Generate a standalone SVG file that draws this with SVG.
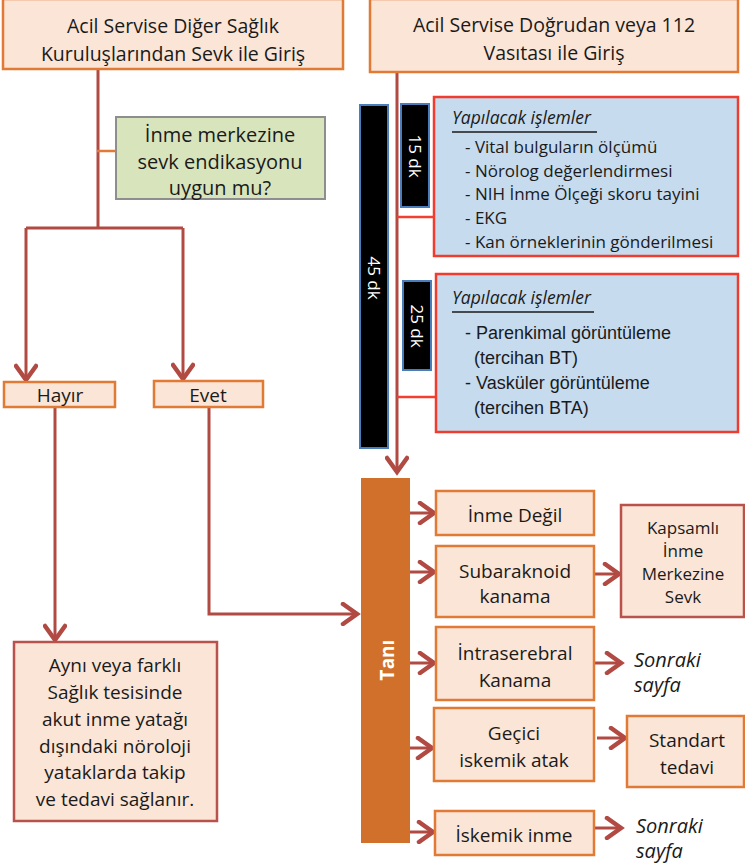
<svg xmlns="http://www.w3.org/2000/svg" width="745" height="866" viewBox="0 0 745 866">
  <defs>
    <marker id="arrow" viewBox="-18 -12 22 24" markerWidth="22" markerHeight="24" refX="0" refY="0" orient="auto" markerUnits="userSpaceOnUse">
      <path d="M-14,-10 L0,0 L-14,10" fill="none" stroke="#B04A42" stroke-width="4.5" stroke-linecap="round" stroke-linejoin="miter"/>
    </marker>
    <style>
      .peach { fill: #FBE5D6; stroke: #E07A35; stroke-width: 2.5; }
      .peachRed { fill: #FBE5D6; stroke: #B9524B; stroke-width: 2.5; }
      .green { fill: #D8E4BC; stroke: #8E8E8E; stroke-width: 2; }
      .blue { fill: #C6DBEE; stroke: #F03C2E; stroke-width: 2.5; }
      .bar { fill: #000000; stroke: #4A7EBB; stroke-width: 2; }
      .tani { fill: #D1702A; }
      .t { font-family: "Open Sans", "Liberation Sans", sans-serif; font-size: 19px; fill: #1a1a1a; text-anchor: middle; }
      .tl { font-family: "Open Sans", "Liberation Sans", sans-serif; font-size: 17px; fill: #1a1a1a; }
      .ti { font-family: "Open Sans", "Liberation Sans", sans-serif; font-size: 17.5px; font-style: italic; fill: #1a1a1a; }
      .th { font-family: "Liberation Sans", Arial, sans-serif; font-size: 18px; fill: #1a1a1a; }
      .tw { font-family: "Open Sans", "Liberation Sans", sans-serif; font-size: 17px; fill: #ffffff; text-anchor: middle; }
      .next { font-family: "Open Sans", "Liberation Sans", sans-serif; font-size: 20px; font-style: italic; fill: #1a1a1a; }
      .conn { fill: none; stroke: #B04A42; stroke-width: 3; }
      .tick { fill: none; stroke: #F0402F; stroke-width: 2.5; }
    </style>
  </defs>

  <!-- connectors -->
  <g id="connectors">
    <path class="conn" d="M98,70 V228"/>
    <path fill="none" stroke="#E07A35" stroke-width="2.5" d="M97,151 H116"/>
    <path class="conn" d="M26,228 H183"/>
    <path class="conn" d="M26,228 V380" marker-end="url(#arrow)"/>
    <path class="conn" d="M183,228 V379" marker-end="url(#arrow)"/>
    <path class="conn" d="M55,407 V640" marker-end="url(#arrow)"/>
    <path class="conn" d="M209,407 V614 H357" marker-end="url(#arrow)"/>
    <path class="conn" d="M397,72 V472" marker-end="url(#arrow)"/>
    <path class="tick" d="M397,217 H434"/>
    <path class="tick" d="M397,397 H436"/>
    <path class="conn" d="M405,513 H434" marker-end="url(#arrow)"/>
    <path class="conn" d="M405,572 H434" marker-end="url(#arrow)"/>
    <path class="conn" d="M405,663 H434" marker-end="url(#arrow)"/>
    <path class="conn" d="M405,748 H432" marker-end="url(#arrow)"/>
    <path class="conn" d="M405,832 H433" marker-end="url(#arrow)"/>
    <path class="conn" d="M591,574 H619" marker-end="url(#arrow)"/>
    <path class="conn" d="M591,663 H621" marker-end="url(#arrow)"/>
    <path class="conn" d="M597,738 H625" marker-end="url(#arrow)"/>
    <path class="conn" d="M594,828 H621" marker-end="url(#arrow)"/>
  </g>

  <!-- entry points -->
  <g id="entry-referral">
    <rect class="peach" x="3" y="-1" width="340" height="70"/>
    <text class="t" x="173" y="33" style="font-size:19.5px">Acil Servise Diğer Sağlık</text>
    <text class="t" x="173" y="61" style="font-size:19.5px">Kuruluşlarından Sevk ile Giriş</text>
  </g>
  <g id="entry-direct">
    <rect class="peach" x="370" y="-1" width="368" height="73"/>
    <text class="t" x="554" y="32" style="font-size:19.5px">Acil Servise Doğrudan veya 112</text>
    <text class="t" x="554" y="60" style="font-size:19.5px">Vasıtası ile Giriş</text>
  </g>

  <!-- referral decision -->
  <g id="question">
    <rect class="green" x="116" y="117" width="209" height="82"/>
    <text class="t" x="220" y="142" style="font-size:20px">İnme merkezine</text>
    <text class="t" x="220" y="169" style="font-size:20px">sevk endikasyonu</text>
    <text class="t" x="220" y="195" style="font-size:20px">uygun mu?</text>
  </g>
  <g id="no">
    <rect class="peach" x="4" y="382" width="111" height="25"/>
    <text class="t" x="60" y="402">Hayır</text>
  </g>
  <g id="yes">
    <rect class="peach" x="154" y="381" width="109" height="26"/>
    <text class="t" x="208" y="402">Evet</text>
  </g>
  <g id="neuro-ward">
    <rect class="peachRed" x="14" y="642" width="203" height="179"/>
    <text class="t" x="115" y="672">Aynı veya farklı</text>
    <text class="t" x="115" y="699">Sağlık tesisinde</text>
    <text class="t" x="115" y="726">akut inme yatağı</text>
    <text class="t" x="115" y="753">dışındaki nöroloji</text>
    <text class="t" x="115" y="779">yataklarda takip</text>
    <text class="t" x="115" y="806">ve tedavi sağlanır.</text>
  </g>

  <!-- time bars -->
  <g id="time-45">
    <rect class="bar" x="360" y="105" width="28" height="343"/>
    <text class="tw" transform="translate(374,278) rotate(90)" y="6">45 dk</text>
  </g>
  <g id="time-15">
    <rect class="bar" x="401" y="104" width="28" height="103"/>
    <text class="tw" transform="translate(415,156) rotate(90)" y="6">15 dk</text>
  </g>
  <g id="time-25">
    <rect class="bar" x="403" y="281" width="28" height="89"/>
    <text class="tw" transform="translate(417,326) rotate(90)" y="6">25 dk</text>
  </g>

  <!-- task lists -->
  <g id="tasks-1">
    <rect class="blue" x="434" y="97" width="304" height="159"/>
    <text class="ti" x="452" y="124">Yapılacak işlemler</text>
    <line x1="452" y1="132" x2="597" y2="132" stroke="#1a1a1a" stroke-width="1.5"/>
    <text class="tl" x="465" y="153">- Vital bulguların ölçümü</text>
    <text class="tl" x="465" y="177">- Nörolog değerlendirmesi</text>
    <text class="tl" x="465" y="200">- NIH İnme Ölçeği skoru tayini</text>
    <text class="tl" x="465" y="224">- EKG</text>
    <text class="tl" x="465" y="248">- Kan örneklerinin gönderilmesi</text>
  </g>
  <g id="tasks-2">
    <rect class="blue" x="436" y="274" width="302" height="158"/>
    <text class="ti" x="452" y="304">Yapılacak işlemler</text>
    <line x1="452" y1="312" x2="594" y2="312" stroke="#1a1a1a" stroke-width="1.5"/>
    <text class="th" x="465" y="339">- Parenkimal görüntüleme</text>
    <text class="th" x="474" y="364">(tercihan BT)</text>
    <text class="th" x="465" y="389">- Vasküler görüntüleme</text>
    <text class="th" x="474" y="414">(tercihen BTA)</text>
  </g>

  <!-- diagnosis -->
  <g id="diagnosis">
    <rect class="tani" x="361" y="478" width="49" height="365"/>
    <text class="tw" transform="translate(387,660) rotate(-90)" y="7" style="font-size:19px;font-weight:bold">Tanı</text>
  </g>
  <g id="not-stroke">
    <rect class="peach" x="436" y="491" width="158" height="44"/>
    <text class="t" x="515" y="522">İnme Değil</text>
  </g>
  <g id="sah">
    <rect class="peach" x="436" y="546" width="158" height="71"/>
    <text class="t" x="515" y="578">Subaraknoid</text>
    <text class="t" x="515" y="603">kanama</text>
  </g>
  <g id="comprehensive-center">
    <rect class="peachRed" x="621" y="505" width="123" height="112"/>
    <text class="t" x="683" y="534" style="font-size:17px">Kapsamlı</text>
    <text class="t" x="683" y="557" style="font-size:17px">İnme</text>
    <text class="t" x="683" y="580" style="font-size:17px">Merkezine</text>
    <text class="t" x="683" y="603" style="font-size:17px">Sevk</text>
  </g>
  <g id="ich">
    <rect class="peach" x="436" y="627" width="158" height="73"/>
    <text class="t" x="515" y="660">İntraserebral</text>
    <text class="t" x="515" y="687">Kanama</text>
  </g>
  <g id="ich-next">
    <text class="next" x="634" y="667">Sonraki</text>
    <text class="next" x="634" y="692">sayfa</text>
  </g>
  <g id="tia">
    <rect class="peach" x="434" y="708" width="160" height="73"/>
    <text class="t" x="514" y="740">Geçici</text>
    <text class="t" x="514" y="767">iskemik atak</text>
  </g>
  <g id="standard-care">
    <rect class="peach" x="627" y="716" width="117" height="71"/>
    <text class="t" x="687" y="747">Standart</text>
    <text class="t" x="687" y="774">tedavi</text>
  </g>
  <g id="ischemic">
    <rect class="peach" x="435" y="811" width="159" height="44"/>
    <text class="t" x="514" y="842">İskemik inme</text>
  </g>
  <g id="ischemic-next">
    <text class="next" x="636" y="833">Sonraki</text>
    <text class="next" x="636" y="858">sayfa</text>
  </g>
</svg>
